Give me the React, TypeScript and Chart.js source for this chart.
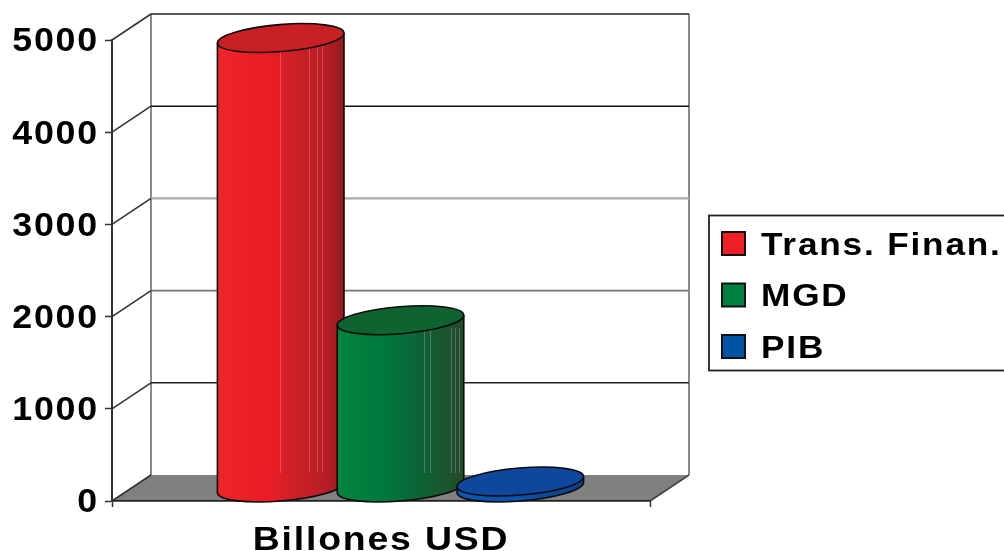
import React, { useEffect, useRef } from "react";
import { Chart, registerables } from "chart.js";

Chart.register(...registerables);

const categories = ["Billones USD"];
const seriesNames = ["Trans. Finan.", "MGD", "PIB"];
const transFinan = [4880];
const mgd = [1820];
const pib = [70];
const yMax = 5000;
const yStep = 1000;

const FONT = "'Liberation Sans', Arial, sans-serif";
const TEXT_WIDEN = 1.1;
const TEXT_DROP = 2.5;
const DEPTH_X = 39;
const DEPTH_Y = -26;

// Back-wall rule colour and width for each gridline value.
const wallRules: Record<number, [string, number]> = {
  1000: ["#222", 1.6],
  2000: ["#777", 1.6],
  3000: ["#aaa", 2.2],
  4000: ["#111", 1.6],
  5000: ["#222", 1.6],
};

// Shading of each cylinder, left to right, plus its lid and the faint bands on the side.
const looks = [
  {
    swatch: "#EE2024",
    lid: "#C82025",
    stops: [[0, "#EE2529"], [0.42, "#EC1C24"], [0.6, "#CC2027"], [0.85, "#B81E25"], [1, "#931A1F"]],
    bands: [0.496, 0.724, 0.787, 0.827],
  },
  {
    swatch: "#00803E",
    lid: "#0F6330",
    stops: [[0, "#00853F"], [0.42, "#00763C"], [0.62, "#0A6536"], [0.85, "#1D5530"], [1, "#1F4A29"]],
    bands: [0.685, 0.73, 0.9, 0.93, 0.96],
  },
  {
    swatch: "#0054A6",
    lid: "#0F479E",
    stops: [[0, "#0B57B0"], [0.5, "#0B52AA"], [1, "#0B3F88"]],
    bands: [],
  },
];

const TILT = (-4.7 * Math.PI) / 180;
const SQUASH = 0.213;

function drawCylinder(ctx: CanvasRenderingContext2D, bar: any, look: (typeof looks)[number]) {
  const cx = bar.x + DEPTH_X / 2;
  const baseY = bar.base + DEPTH_Y / 2;
  const topY = bar.y + DEPTH_Y / 2;
  const a = bar.width / 2;
  const b = a * SQUASH;
  const t0 = Math.atan(-(b / a) * Math.tan(TILT));
  const ex = a * Math.cos(t0) * Math.cos(TILT) - b * Math.sin(t0) * Math.sin(TILT);
  const ey = a * Math.cos(t0) * Math.sin(TILT) + b * Math.sin(t0) * Math.cos(TILT);

  ctx.save();
  const grad = ctx.createLinearGradient(cx - ex, 0, cx + ex, 0);
  look.stops.forEach(([p, c]) => grad.addColorStop(p as number, c as string));

  ctx.beginPath();
  ctx.moveTo(cx - ex, topY - ey);
  ctx.lineTo(cx - ex, baseY - ey);
  ctx.ellipse(cx, baseY, a, b, TILT, t0 + Math.PI, t0, true);
  ctx.lineTo(cx + ex, topY + ey);
  ctx.ellipse(cx, topY, a, b, TILT, t0, t0 + Math.PI, false);
  ctx.closePath();
  ctx.fillStyle = grad;
  ctx.fill();

  // Faint vertical bands along the side
  ctx.strokeStyle = "rgba(255,255,255,0.22)";
  ctx.lineWidth = 1;
  look.bands.forEach((p) => {
    const x = Math.round(cx - ex + p * 2 * ex) + 0.5;
    ctx.beginPath();
    ctx.moveTo(x, topY + b * 0.6);
    ctx.lineTo(x, baseY - b - 1);
    ctx.stroke();
  });

  ctx.strokeStyle = "#0b0b0b";
  ctx.lineWidth = 1.6;
  ctx.beginPath();
  ctx.moveTo(cx - ex, topY - ey);
  ctx.lineTo(cx - ex, baseY - ey);
  ctx.ellipse(cx, baseY, a, b, TILT, t0 + Math.PI, t0, true);
  ctx.lineTo(cx + ex, topY + ey);
  ctx.stroke();

  ctx.beginPath();
  ctx.ellipse(cx, topY, a, b, TILT, 0, Math.PI * 2);
  ctx.fillStyle = look.lid;
  ctx.fill();
  ctx.stroke();
  ctx.restore();
}

// Back wall, side wall and floor of the box, plus the frame around the legend.
const scenery = {
  id: "scenery",
  // All labels use a slightly widened face, scaled about each text anchor.
  install(chart: any) {
    const ctx = chart.ctx;
    const plain = ctx.fillText.bind(ctx);
    ctx.fillText = (text: string, x: number, y: number, maxWidth?: number) => {
      ctx.save();
      ctx.translate(x, y + TEXT_DROP);
      ctx.scale(TEXT_WIDEN, 1);
      plain(text, 0, 0, maxWidth);
      ctx.restore();
    };
  },
  beforeDraw(chart: any) {
    const { ctx, scales } = chart;
    const { x: xs, y: ys } = scales;
    ctx.letterSpacing = "1.65px";
    const l = xs.left;
    const r = xs.right;
    const y0 = ys.getPixelForValue(0);
    const yTop = ys.getPixelForValue(yMax);

    ctx.save();
    ctx.fillStyle = "#808080";
    ctx.beginPath();
    ctx.moveTo(l, y0);
    ctx.lineTo(r, y0);
    ctx.lineTo(r + DEPTH_X, y0 + DEPTH_Y);
    ctx.lineTo(l + DEPTH_X, y0 + DEPTH_Y);
    ctx.closePath();
    ctx.fill();

    // Uprights at the back corners
    ctx.strokeStyle = "#8a8a8a";
    ctx.lineWidth = 2;
    ctx.beginPath();
    ctx.moveTo(l + DEPTH_X, yTop + DEPTH_Y);
    ctx.lineTo(l + DEPTH_X, y0 + DEPTH_Y);
    ctx.moveTo(r + DEPTH_X, yTop + DEPTH_Y);
    ctx.lineTo(r + DEPTH_X, y0 + DEPTH_Y);
    ctx.stroke();
    ctx.strokeStyle = "#444";
    ctx.lineWidth = 1.6;
    ctx.beginPath();
    ctx.moveTo(r + DEPTH_X, y0 + DEPTH_Y);
    ctx.lineTo(r, y0);
    ctx.stroke();

    // Gridlines run across the side wall, then along the back wall
    ys.ticks.forEach((t: any) => {
      const y = ys.getPixelForValue(t.value);
      if (t.value !== 0) {
        const [color, width] = wallRules[t.value];
        ctx.strokeStyle = color;
        ctx.lineWidth = width;
        ctx.beginPath();
        ctx.moveTo(l + DEPTH_X, y + DEPTH_Y);
        ctx.lineTo(r + DEPTH_X, y + DEPTH_Y);
        ctx.stroke();
      }
      ctx.strokeStyle = "#333";
      ctx.lineWidth = 1.6;
      ctx.beginPath();
      ctx.moveTo(l, y);
      ctx.lineTo(l + DEPTH_X, y + DEPTH_Y);
      ctx.stroke();
    });

    ctx.strokeStyle = "#222";
    ctx.lineWidth = 1.8;
    ctx.strokeRect(709, 215.5, 320, 155);
    ctx.restore();
  },
  afterLayout(chart: any) {
    const legend = chart.legend;
    legend.left = 702.5;
    legend.right = 1004;
    legend.top = 208;
    legend.bottom = 420;
    legend.width = 301.5;
    legend.height = 212;
  },
  // Front cylinders overlap the ones to their left, so they are painted in series order.
  beforeDatasetsDraw(chart: any) {
    seriesNames.forEach((_, i) => {
      drawCylinder(chart.ctx, chart.getDatasetMeta(i).data[0], looks[i]);
    });
  },
  beforeDatasetDraw() {
    return false;
  },
};

export default function App() {
  const ref = useRef<HTMLCanvasElement>(null);

  useEffect(() => {
    const values = [transFinan, mgd, pib];
    const chart = new Chart(ref.current as HTMLCanvasElement, {
      type: "bar",
      data: {
        labels: categories,
        datasets: seriesNames.map((name, i) => ({
          label: name,
          data: values[i],
          backgroundColor: looks[i].swatch,
          borderColor: "#111",
          borderWidth: 2,
          categoryPercentage: 0.668,
          barPercentage: 1.06,
        })),
      },
      options: {
        responsive: false,
        animation: false,
        layout: { padding: { left: 0, top: 40, right: 354, bottom: 0 } },
        plugins: {
          tooltip: { enabled: false },
          legend: {
            display: true,
            position: "chartArea",
            align: "start",
            labels: {
              boxWidth: 23,
              boxHeight: 23,
              padding: 19.5,
              color: "#000",
              font: { family: FONT, size: 32, weight: "bold" },
            },
          },
        },
        scales: {
          x: {
            afterFit: (s: any) => {
              s.height = 50;
            },
            offset: true,
            border: { color: "#222", width: 1.8 },
            grid: { offset: true, drawOnChartArea: false, drawTicks: true, tickLength: 6, tickColor: "#333", tickWidth: 1.5 },
            ticks: {
              color: "#000",
              padding: 11,
              maxRotation: 0,
              autoSkip: false,
              font: { family: FONT, size: 34, weight: "bold" },
            },
          },
          y: {
            min: 0,
            max: yMax,
            afterFit: (s: any) => {
              s.width = 112;
            },
            border: { color: "#333", width: 2 },
            grid: { drawOnChartArea: false, drawTicks: true, tickLength: 7, tickColor: "#333", tickWidth: 1.5 },
            ticks: {
              stepSize: yStep,
              color: "#000",
              padding: 6,
              callback: (v: number) => String(v),
              font: { family: FONT, size: 32.5, weight: "bold" },
            },
          },
        },
      } as any,
      plugins: [scenery],
    });
    return () => chart.destroy();
  }, []);

  return (
    <canvas
      ref={ref}
      width={1004}
      height={551}
      style={{ position: "absolute", left: 0, top: 0, display: "block" }}
    />
  );
}
